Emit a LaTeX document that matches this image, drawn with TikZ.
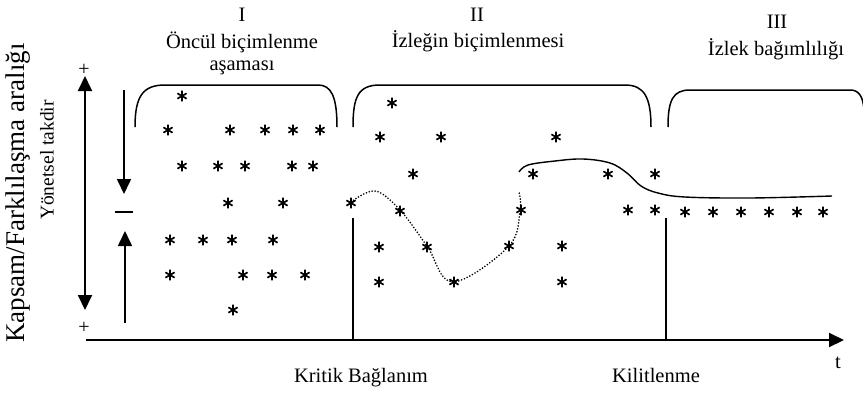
\documentclass[tikz,border=0pt]{standalone}
\usepackage{fontspec}
\setmainfont{Liberation Serif}
\usetikzlibrary{arrows.meta,plotmarks}
\tikzset{
  lbl/.style={inner sep=0pt, anchor=base, font=\fontsize{20.5}{22}\selectfont},
  thick2/.style={line width=2pt},
  tip/.style={-{Triangle[length=15pt,width=14pt]}},
  brk/.style={line width=1.5pt},
  star/.style={only marks, mark=asterisk, mark size=5.3pt, line width=1.7pt},
}
\begin{document}
\begin{tikzpicture}[x=1pt,y=-1pt]
\clip (0,0) rectangle (863,392);
\fill[white] (0,0) rectangle (863,392);
% axis labels
\node[lbl, anchor=center, rotate=90, font=\fontsize{27}{29}\selectfont] (ylab) at (18,193) {Kapsam/Farklılaşma aralığı};
\node[lbl, anchor=center, rotate=90, font=\fontsize{19.5}{21}\selectfont] (ylab2) at (47,160) {Yönetsel takdir};
% phase labels
\node[lbl] (p1) at (242,21) {I};
\node[lbl] (p1a) at (242,48) {Öncül biçimlenme};
\node[lbl] (p1b) at (242,70) {aşaması};
\node[lbl] (p2) at (477,21) {II};
\node[lbl] (p2a) at (478,47) {İzleğin biçimlenmesi};
\node[lbl] (p3) at (777,28) {III};
\node[lbl] (p3a) at (776,55) {İzlek bağımlılığı};
% plus/minus
\node[lbl, anchor=center, font=\fontsize{20}{22}\selectfont] (plt) at (84,70) {+};
\node[lbl, anchor=center, font=\fontsize{20}{22}\selectfont] (plb) at (84,328) {+};
\coordinate (mL) at (115,212);
\coordinate (mR) at (133,212);
\draw[line width=1.5pt] (mL) -- (mR);
% big double arrow
\coordinate (bt) at (85,76);
\coordinate (bb) at (85,310);
\draw[thick2, {Triangle[length=15pt,width=14pt]}-{Triangle[length=15pt,width=14pt]}] (bt) -- (bb);
% small arrows
\coordinate (d1) at (124,90);
\coordinate (d2) at (124,194);
\draw[line width=1.6pt, tip] (d1) -- (d2);
\coordinate (u1) at (125,323);
\coordinate (u2) at (125,231);
\draw[line width=1.6pt, tip] (u1) -- (u2);
% x axis
\coordinate (x0) at (86,340);
\coordinate (x1) at (844,340);
\draw[thick2, tip] (x0) -- (x1);
\node[lbl] (t) at (838,368) {t};
% vertical markers
\coordinate (k1) at (353,218);
\coordinate (k0) at (353,340);
\draw[line width=1.3pt] (k1) -- (k0);
\coordinate (l1) at (666,218);
\coordinate (l0) at (666,340);
\draw[line width=1.3pt] (l1) -- (l0);
\node[lbl] (kb) at (361,382) {Kritik Bağlanım};
\node[lbl] (kl) at (656,382) {Kilitlenme};
% brackets
\draw[brk] (135,127) .. controls (135,96) and (143,85) .. (165,85) -- (318,85) .. controls (331,85) and (337,96) .. (337,127);
\draw[brk] (353,127) .. controls (353,97) and (358,85) .. (380,85) -- (625,85) .. controls (644,85) and (651,97) .. (651,127);
\draw[brk] (668,127) .. controls (668,100) and (673,90) .. (690,90) -- (850,90) .. controls (858,90) and (863,95) .. (864,110);
% curves
\draw[line width=1.8pt, line cap=round, dash pattern=on 0pt off 3pt] plot[smooth, tension=0.6] coordinates {(351,202) (375,191) (400,210) (427,246) (453,282) (509,246) (520,210) (519,192)};
\draw[line width=1.4pt] plot[smooth, tension=0.6] coordinates {(519,172) (528,165) (555,161) (583,159) (610,163) (627,173) (641,186) (658,193) (685,197) (750,198) (832,196)};
% stars
\draw[star] plot coordinates {(182,96) (168,130) (230,130) (265,130) (293,130) (320,130)
 (182,166) (218,166) (245,166) (292,166) (313,166) (228,203) (283,203)
 (170,240) (203,240) (232,240) (273,240) (170,275) (243,275) (272,275) (305,275) (233,310)};
\draw[star] plot coordinates {(392,103) (380,137) (441,137) (556,137)
 (413,174) (533,174) (608,174) (655,174)
 (351,203) (400,211) (521,210) (628,210) (655,210)
 (379,247) (427,247) (509,246) (562,246) (379,282) (454,282) (562,282)};
\draw[star] plot coordinates {(685,212) (713,212) (741,212) (769,212) (797,212) (823,212)};
\end{tikzpicture}
\end{document}
